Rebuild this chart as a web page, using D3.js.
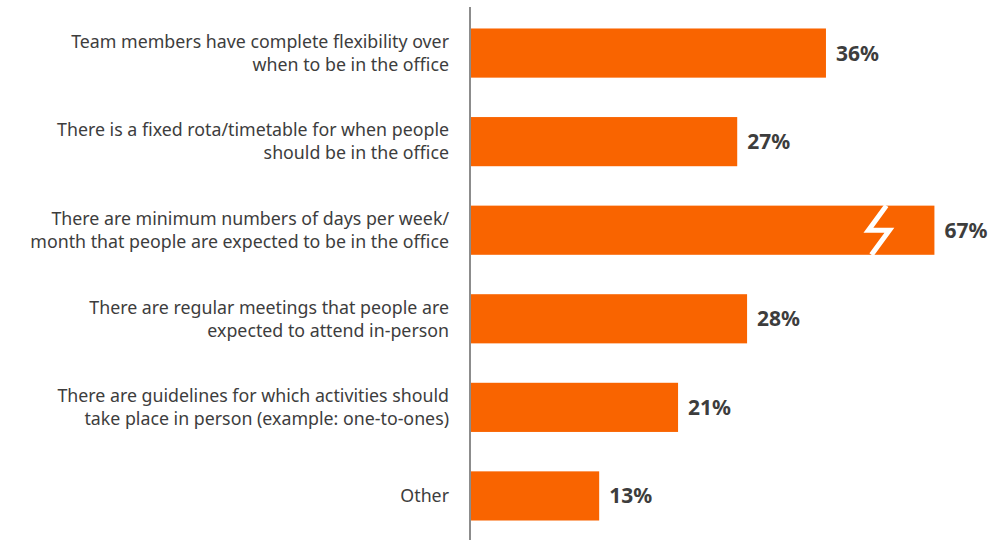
<!DOCTYPE html>
<html><head><meta charset="utf-8">
<script src="https://cdn.jsdelivr.net/npm/d3@7"></script>
<style>body{margin:0;background:#fff;}svg{display:block;}</style>
</head><body>
<script>
const categories = [
  ["Team members have complete flexibility over", "when to be in the office"],
  ["There is a fixed rota/timetable for when people", "should be in the office"],
  ["There are minimum numbers of days per week/", "month that people are expected to be in the office"],
  ["There are regular meetings that people are", "expected to attend in-person"],
  ["There are guidelines for which activities should", "take place in person (example: one-to-ones)"],
  ["Other"]
];
const values = [36, 27, 67, 28, 21, 13];
const axisCap = 47; // bars above this are drawn broken
const W = 1005, H = 540;
const x0 = 471;
const svg = d3.select("body").append("svg").attr("width", W).attr("height", H);
const x = d3.scaleLinear().domain([0, 100]).range([x0, x0 + 986]);
const y = d3.scaleBand().domain(d3.range(values.length)).range([9, 540]).paddingInner(0.445).paddingOuter(0.22);
const color = "#f96400";

const g = svg.append("g");
values.forEach((v, i) => {
  const broken = v > axisCap;
  const xe = x(broken ? axisCap : v);
  g.append("rect").attr("x", x0).attr("y", y(i)).attr("width", xe - x0).attr("height", y.bandwidth()).attr("fill", color);
  if (broken) {
    const t = y(i), b = y(i) + y.bandwidth(), m = t + y.bandwidth() * 0.5;
    const cx = xe - 57;
    g.append("path")
      .attr("d", `M${cx + 9},${t} L${cx - 9},${m} L${cx + 12},${m} L${cx - 6},${b}`)
      .attr("fill", "none").attr("stroke", "#fff").attr("stroke-width", 5).attr("stroke-linejoin", "miter");
  }
  g.append("text").attr("x", xe + 10).attr("y", y(i) + y.bandwidth() / 2).attr("dy", "0.36em")
    .attr("font-family", "Noto Sans").attr("font-weight", "bold").attr("font-size", 21)
    .attr("fill", "#3d3d3d").text(v + "%");
  const lines = categories[i];
  const cy = y(i) + y.bandwidth() / 2;
  lines.forEach((ln, j) => {
    g.append("text").attr("x", 449).attr("y", cy + (j - (lines.length - 1) / 2) * 23).attr("dy", "0.35em")
      .attr("text-anchor", "end").attr("font-family", "Noto Sans").attr("font-size", 17.8)
      .attr("fill", "#3d3d3d").text(ln);
  });
});
svg.append("line").attr("x1", 470).attr("x2", 470).attr("y1", 7).attr("y2", 540)
  .attr("stroke", "#8c8c8c").attr("stroke-width", 2);
</script>
</body></html>
